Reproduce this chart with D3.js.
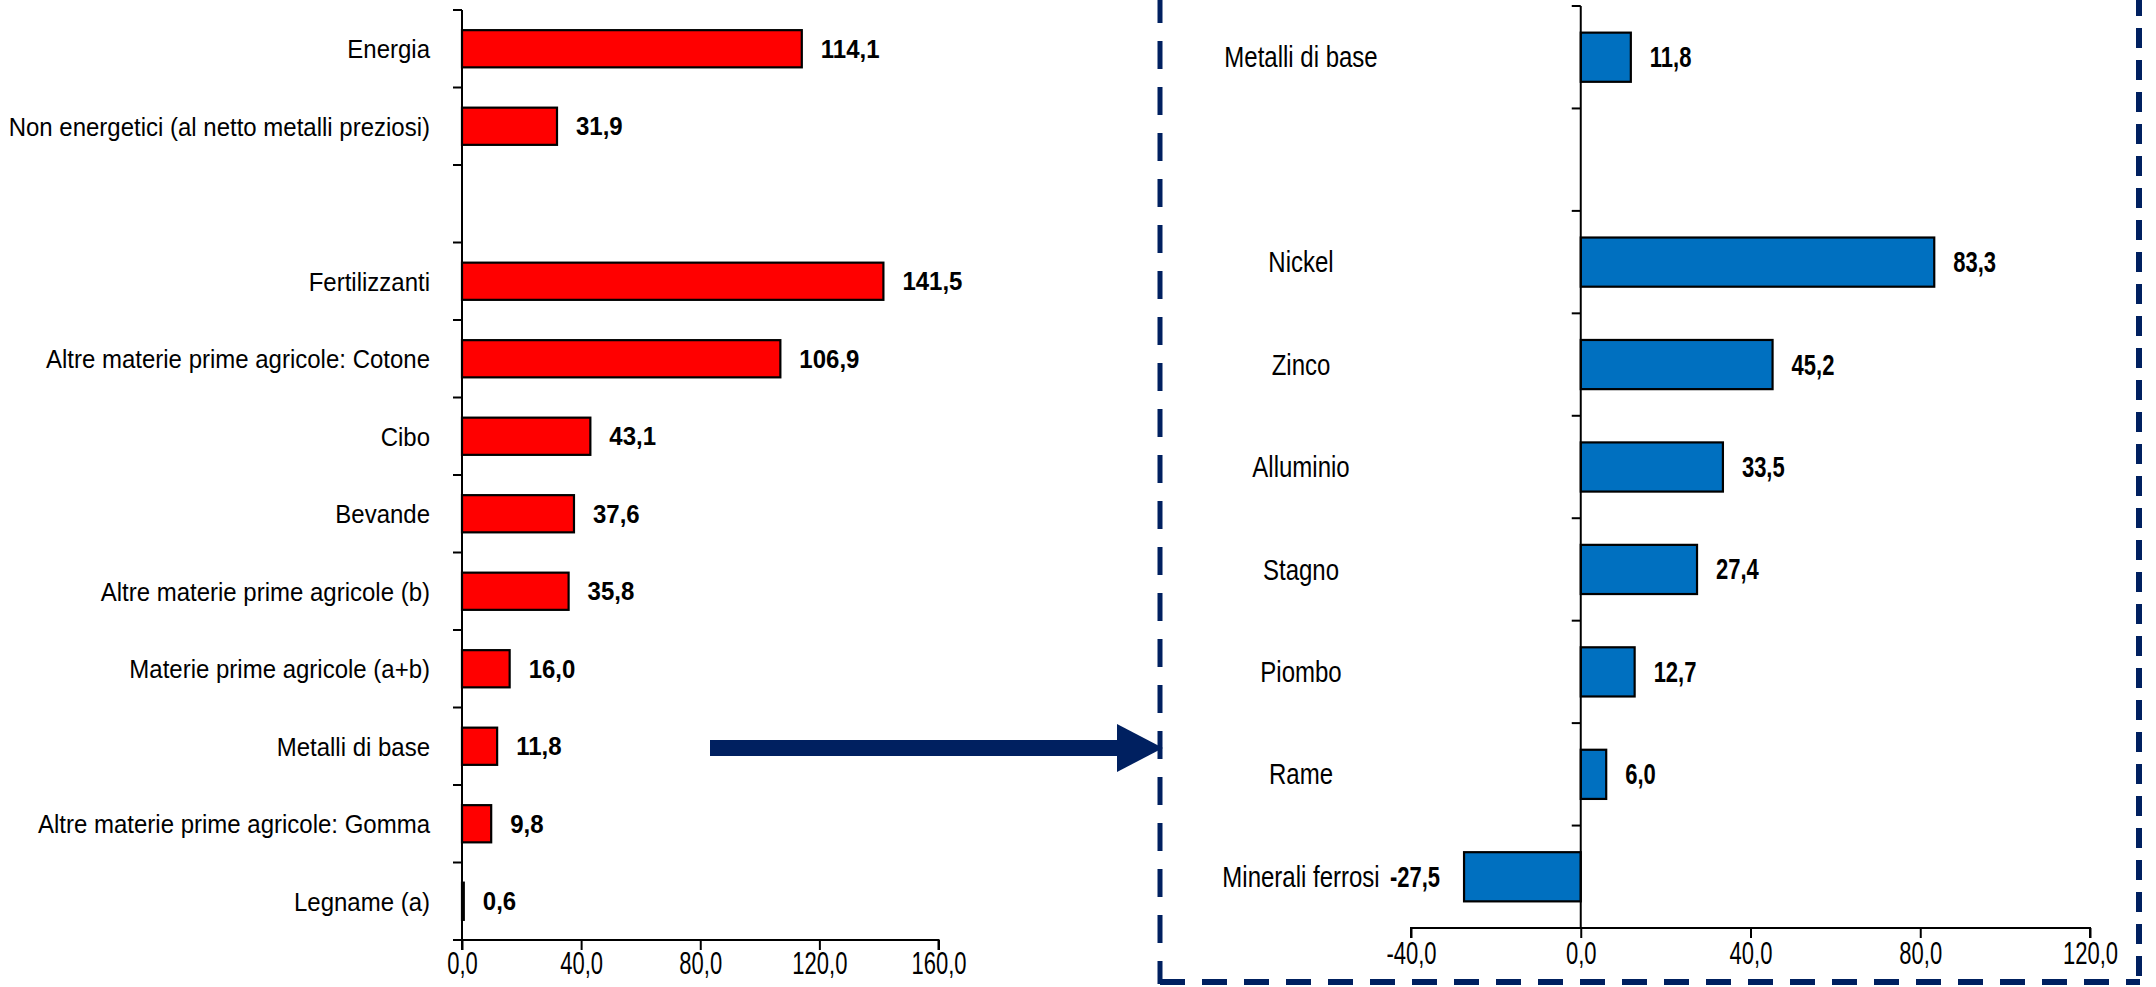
<!DOCTYPE html>
<html><head><meta charset="utf-8">
<script src="https://cdn.jsdelivr.net/npm/d3@7"></script>
<style>
html,body{margin:0;padding:0;background:#fff;}
svg{display:block;font-family:"Liberation Sans",Arial,sans-serif;}
</style></head>
<body>
<svg id="chart" width="2156" height="987"></svg>
<script>
// ---- data ----
const leftCategories = ["Energia","Non energetici (al netto metalli preziosi)","","Fertilizzanti","Altre materie prime agricole: Cotone","Cibo","Bevande","Altre materie prime agricole (b)","Materie prime agricole (a+b)","Metalli di base","Altre materie prime agricole: Gomma","Legname (a)"];
const leftValues = [114.1,31.9,null,141.5,106.9,43.1,37.6,35.8,16.0,11.8,9.8,0.6];
const leftTicks = [0,40,80,120,160];

const rightCategories = ["Metalli di base","","Nickel","Zinco","Alluminio","Stagno","Piombo","Rame","Minerali ferrosi"];
const rightValues = [11.8,null,83.3,45.2,33.5,27.4,12.7,6.0,-27.5];
const rightTicks = [-40,0,40,80,120];

const fmt = v => d3.format(".1f")(v).replace(".", ",").replace("\u2212","-");
const svg = d3.select("#chart");

function drawPanel(o){
  const g = svg.append("g");
  const y = d3.scaleBand().domain(o.cats.map((c,i)=>i)).range([o.top,o.bottom]).padding(0);
  const x = d3.scaleLinear().domain(o.domain).range([o.left,o.right]);
  const bh = y.bandwidth()*0.48;
  const data = o.cats.map((c,i)=>({c,i,v:o.vals[i]}));
  // bars
  g.selectAll("rect.bar").data(data.filter(d=>d.v!==null)).join("rect")
    .attr("x",d=>x(Math.min(0,d.v))).attr("width",d=>Math.abs(x(d.v)-x(0)))
    .attr("y",d=>y(d.i)+(y.bandwidth()-bh)/2).attr("height",bh)
    .attr("fill",o.color).attr("stroke","#000").attr("stroke-width",2.2);
  // y axis
  const yAxisG = g.append("g").attr("transform",`translate(${x(0)},0)`);
  yAxisG.append("line").attr("y1",o.top).attr("y2",o.bottom).attr("stroke","#000").attr("stroke-width",2);
  const bnds = d3.range(o.cats.length+1).map(i=>o.top+i*y.step());
  yAxisG.selectAll("line.t").data(bnds).join("line").attr("class","t")
    .attr("x1",-9).attr("x2",0).attr("y1",d=>d).attr("y2",d=>d).attr("stroke","#000").attr("stroke-width",2);
  // x axis
  const xa = d3.axisBottom(x).tickValues(o.ticks).tickSize(10).tickFormat(fmt);
  const xg = g.append("g").attr("transform",`translate(0,${o.bottom})`).call(xa);
  xg.select(".domain").attr("stroke","#000").attr("stroke-width",2).attr("d",`M${o.left},10V0H${o.right}V10`);
  xg.selectAll(".tick line").attr("stroke","#000").attr("stroke-width",2);
  xg.selectAll(".tick text").attr("fill","#000").attr("font-size",o.tickSize).attr("font-family","Liberation Sans, Arial, sans-serif")
    .attr("y",null).attr("dy",null).attr("transform",`translate(0,${o.tickLabelY}) scale(1,${o.tickStretch})`);
  // category labels
  g.selectAll("text.cat").data(data.filter(d=>d.c)).join("text")
    .attr("text-anchor",o.catAnchor).attr("font-size",24).attr("fill","#000")
    .attr("transform",d=>`translate(${o.catX},${y(d.i)+y.bandwidth()/2}) scale(1,${o.stretch})`)
    .attr("dy","0.35em").text(d=>d.c);
  // value labels
  g.selectAll("text.val").data(data.filter(d=>d.v!==null)).join("text")
    .attr("text-anchor",d=>d.v<0?"end":"start").attr("font-size",o.valSize).attr("font-weight","bold").attr("fill","#000")
    .attr("transform",d=>`translate(${d.v<0?x(d.v)-24:x(d.v)+19},${y(d.i)+y.bandwidth()/2}) scale(1,${o.valStretch})`)
    .attr("dy","0.35em").text(d=>fmt(d.v));
  return {x,y};
}

drawPanel({cats:leftCategories,vals:leftValues,ticks:leftTicks,domain:[0,160],left:462,right:938.5,top:10,bottom:940,
  color:"#FF0000",catAnchor:"end",catX:430,valSize:24,valStretch:1.08,tickSize:22,tickLabelY:34,tickStretch:1.45,stretch:1.1});
drawPanel({cats:rightCategories,vals:rightValues,ticks:rightTicks,domain:[-40,120],left:1411,right:2090,top:6,bottom:928,
  color:"#0070C0",catAnchor:"middle",catX:1301,valSize:22,valStretch:1.3,tickSize:22,tickLabelY:36,tickStretch:1.4,stretch:1.2});

// dashed box
const navy = "#002060";
svg.append("line").attr("x1",1160).attr("x2",1160).attr("y1",-5).attr("y2",984).attr("stroke",navy).attr("stroke-width",5).attr("stroke-dasharray","28 18");
svg.append("line").attr("x1",1160).attr("x2",2140).attr("y1",982).attr("y2",982).attr("stroke",navy).attr("stroke-width",6).attr("stroke-dasharray","25 17");
svg.append("line").attr("x1",2139).attr("x2",2139).attr("y1",-4).attr("y2",984).attr("stroke",navy).attr("stroke-width",6).attr("stroke-dasharray","20 12");

// arrow
svg.append("rect").attr("x",710).attr("y",740).attr("width",407).attr("height",16).attr("fill",navy);
svg.append("path").attr("d","M1117,724L1163,748L1117,772Z").attr("fill",navy);
</script>
</body></html>
